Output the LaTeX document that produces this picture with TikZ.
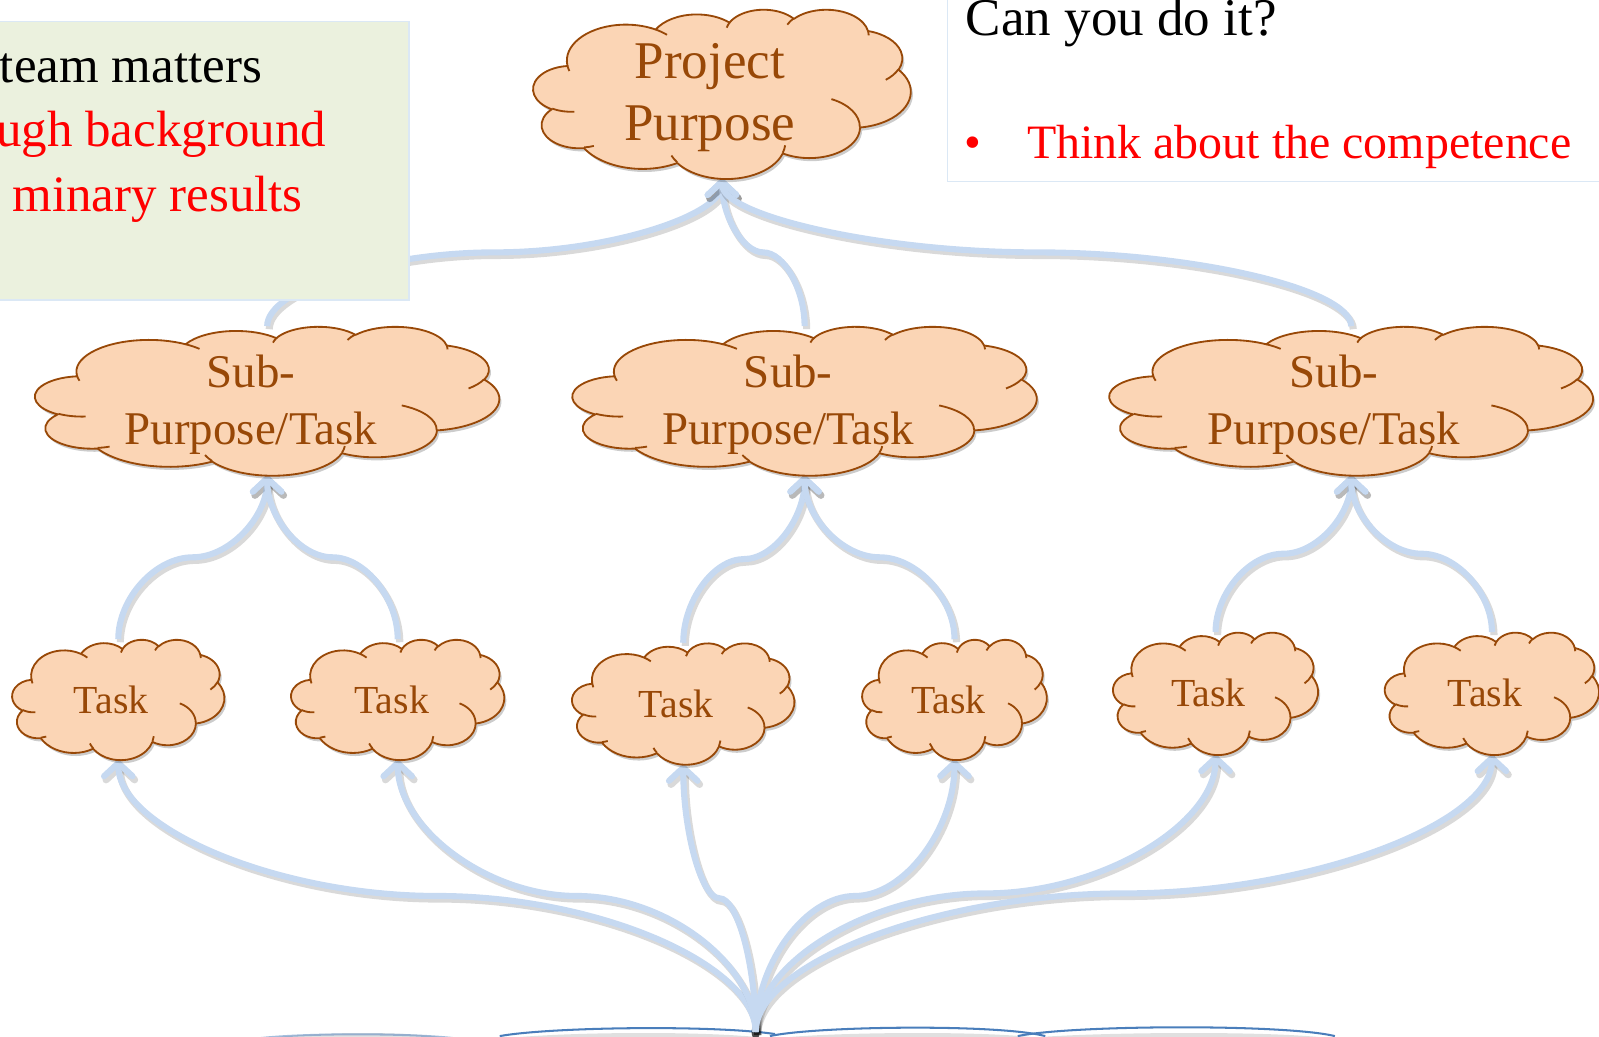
\documentclass[tikz,border=0pt]{standalone}
\usepackage{fontspec}
\setmainfont{Liberation Serif}
\usetikzlibrary{arrows.meta,calc}
\definecolor{cloudfill}{HTML}{FBD5B5}
\definecolor{clouddraw}{HTML}{984807}
\definecolor{conncol}{HTML}{C6D9F1}
\definecolor{boxgreen}{HTML}{EBF1DE}
\definecolor{boxline}{HTML}{DBE8F5}
\definecolor{botline}{HTML}{4A7EBB}
\pgfdeclarelayer{bg}
\pgfsetlayers{bg,main}
\tikzset{
 cloudline/.style={draw=clouddraw, line width=1.8pt, line join=round},
 ctext/.style={text=clouddraw, align=center, inner sep=0pt},
 anchorbox/.style={inner sep=0pt, draw=none},
 conn/.style={conncol, line width=6pt, -{Straight Barb[length=13pt,width=28pt,round]}},
 connshadow/.style={black, opacity=0.15, line width=7pt, -{Straight Barb[length=13pt,width=28pt,round]},
   transform canvas={shift={(2pt,-3pt)}}},
 boxtext/.style={inner sep=0pt, anchor=base east, font=\fontsize{50}{60}\selectfont},
}
\newcommand\arccalc[4]{%
 \pgfmathparse{atan2(#1/#2*sin(#3),cos(#3))}\xdef\cts{\pgfmathresult}%
 \pgfmathparse{atan2(#1/#2*sin(#3+#4),cos(#3+#4))}\xdef\cte{\pgfmathresult}%
 \pgfmathparse{mod(\cte-\cts+720,360)}\xdef\cdt{\pgfmathresult}}
% #1 name, #2 cx, #3 cy, #4 W, #5 H
\newcommand\pptcloud[5]{%
 \node[anchorbox, minimum width=#4pt, minimum height=#5pt] (#1) at (#2,#3) {};
 \begin{scope}[shift={(#2-#4/2,#3-#5/2)}, xscale=#4/432, yscale=#5/432]
 \foreach \sty in {{fill=black, opacity=0.2, transform canvas={shift={(2pt,-3pt)}}},{fill=cloudfill, cloudline}}{
 \expandafter\path\expandafter[\sty] (39.00,143.70)
  \foreach \a/\b/\c/\d in {67.53/91.90/-190.4875/123.7805, 53.33/72.67/-144.1024/89.9452,
   43.65/59.45/-145.8079/99.7230, 48.57/65.95/-130.9861/117.2417, 53.33/72.73/-78.7089/109.0269,
   67.75/92.20/-46.2673/130.2690, 57.85/78.67/0.6250/114.0333, 67.52/92.15/22.4516/115.1726,
   77.20/105.43/66.2426/75.7110, 43.60/59.18/-274.9421/146.7356, 43.45/59.45/-246.8285/152.5189}
  { \pgfextra{\arccalc{\a}{\b}{\c}{\d}} arc[start angle=\cts, delta angle=\cdt, x radius=\a, y radius=\b] }
  -- cycle;
 }
 \path[cloudline]
  \foreach \px/\py/\a/\b/\c/\d in {46.93/261.77/43.45/59.45/86.7420/26.4295,
   69.28/348.99/43.60/59.18/73.6105/11.4475, 164.78/390.90/67.52/92.15/137.6242/14.0811,
   288.27/347.51/67.52/92.15/6.4533/15.9984, 341.29/229.54/57.85/78.67/-70.2924/70.9174,
   417.98/153.54/53.33/72.73/30.3180/27.7515, 383.24/54.26/48.57/65.95/-13.7443/14.8589,
   290.78/39.52/48.57/65.95/-149.1815/18.1954, 221.41/47.20/43.65/59.45/-163.4943/17.6864,
   140.00/51.92/67.53/91.90/-66.7070/12.3194, 41.27/157.89/67.53/91.90/157.6544/11.8582}
  { (\px,\py) \pgfextra{\arccalc{\a}{\b}{\c}{\d}} arc[start angle=\cts, delta angle=\cdt, x radius=\a, y radius=\b] };
 \end{scope}
}
\newcommand\cconn[2]{%
 \draw[connshadow] let \p1=(#1), \p2=(#2) in (\p1) .. controls (\x1,{\y1+(\y2-\y1)/4}) and ({\x1+(\x2-\x1)/4},{(\y1+\y2)/2}) .. ({(\x1+\x2)/2},{(\y1+\y2)/2}) .. controls ({\x1+3*(\x2-\x1)/4},{(\y1+\y2)/2}) and (\x2,{\y1+3*(\y2-\y1)/4}) .. (\p2);
 \draw[conn] let \p1=(#1), \p2=(#2) in (\p1) .. controls (\x1,{\y1+(\y2-\y1)/4}) and ({\x1+(\x2-\x1)/4},{(\y1+\y2)/2}) .. ({(\x1+\x2)/2},{(\y1+\y2)/2}) .. controls ({\x1+3*(\x2-\x1)/4},{(\y1+\y2)/2}) and (\x2,{\y1+3*(\y2-\y1)/4}) .. (\p2);
}
\begin{document}
\begin{tikzpicture}[x=1pt,y=-1pt]
\useasboundingbox (0,0) rectangle (1568,1016);
\clip (0,0) rectangle (1568,1016);
% clouds
\pptcloud{proj}{708}{92}{370}{166}
\pptcloud{sub1}{262}{393}{455}{146}
\pptcloud{sub2}{789}{393}{455}{146}
\pptcloud{sub3}{1325}{393}{474}{146}
\pptcloud{t1}{116}{686}{208}{118}
\pptcloud{t2}{390}{686}{209}{118}
\pptcloud{t3}{670}{690}{218}{119}
\pptcloud{t4}{936}{686}{181}{118}
\pptcloud{t5}{1192}{680}{201}{120}
\pptcloud{t6}{1463}{680}{210}{120}
% cloud texts (base = last line)
\node[ctext, anchor=base, font=\fontsize{52}{61}\selectfont] (projtxt) at (696,138) {Project\\Purpose};
\node[ctext, anchor=base, font=\fontsize{46}{56}\selectfont] (sub1txt) at (246,436) {Sub-\\Purpose/Task};
\node[ctext, anchor=base, font=\fontsize{46}{56}\selectfont] (sub2txt) at (773,436) {Sub-\\Purpose/Task};
\node[ctext, anchor=base, font=\fontsize{46}{56}\selectfont] (sub3txt) at (1308,436) {Sub-\\Purpose/Task};
\node[ctext, anchor=base, font=\fontsize{39}{46}\selectfont] (t1txt) at (109,700) {Task};
\node[ctext, anchor=base, font=\fontsize{39}{46}\selectfont] (t2txt) at (384,700) {Task};
\node[ctext, anchor=base, font=\fontsize{39}{46}\selectfont] (t3txt) at (663,704) {Task};
\node[ctext, anchor=base, font=\fontsize{39}{46}\selectfont] (t4txt) at (930,700) {Task};
\node[ctext, anchor=base, font=\fontsize{39}{46}\selectfont] (t5txt) at (1185,693) {Task};
\node[ctext, anchor=base, font=\fontsize{39}{46}\selectfont] (t6txt) at (1456,693) {Task};
\coordinate (root) at (741,1012);
\begin{pgfonlayer}{bg}
% bottom arcs
\foreach \a/\b/\c/\d in {255/300/400/445, 490/540/700/760, 755/800/980/1025, 998/1050/1260/1309}{
  \draw[black, opacity=0.12, line width=6pt] (\a,1022) .. controls (\b,1015) and (\c,1013) .. (\d,1022);
}
\draw[botline, line width=2pt, opacity=0.5] (255,1018) .. controls (300,1013) and (400,1013) .. (445,1018);
\draw[botline, line width=2pt] (490,1016) .. controls (540,1007) and (700,1005) .. (760,1014);
\draw[botline, line width=2pt] (755,1016) .. controls (800,1006) and (980,1004) .. (1025,1016);
\draw[botline, line width=2pt] (998,1016) .. controls (1050,1005) and (1260,1004) .. (1309,1016);
\fill[black, opacity=0.7] (root) ellipse [x radius=4pt, y radius=7pt];
% connectors
\cconn{sub1.north}{proj.south}
\cconn{sub2.north}{proj.south}
\cconn{sub3.north}{proj.south}
\cconn{t1.north}{sub1.south}
\cconn{t2.north}{sub1.south}
\cconn{t3.north}{sub2.south}
\cconn{t4.north}{sub2.south}
\cconn{t5.north}{sub3.south}
\cconn{t6.north}{sub3.south}
\cconn{root}{t1.south}
\cconn{root}{t2.south}
\cconn{root}{t3.south}
\cconn{root}{t4.south}
\cconn{root}{t5.south}
\cconn{root}{t6.south}
\end{pgfonlayer}
% left box
\node[draw=boxline, fill=boxgreen, line width=1.5pt, minimum width=411pt, minimum height=273pt, inner sep=0pt] (lbox) at (195.5,157.5) {};
\node[boxtext] (l1) at (257,81) {team matters};
\node[boxtext, text=red] (l2) at (320,144) {ugh background};
\node[boxtext, text=red] (l3) at (297,207) {minary results};
% right box
\node[draw=boxline, fill=white, line width=1.5pt, minimum width=651pt, minimum height=198pt, inner sep=0pt] (rbox) at (1254.5,79) {};
\node[inner sep=0pt, anchor=base west, font=\fontsize{52}{62}\selectfont] (r1) at (947,35) {Can you do it?};
\node[inner sep=0pt, anchor=base west, text=red, font=\fontsize{47}{56}\selectfont] (rb) at (946,155) {•};
\node[inner sep=0pt, anchor=base west, text=red, font=\fontsize{47}{56}\selectfont] (r2) at (1007,155) {Think about the competence};
\end{tikzpicture}
\end{document}
